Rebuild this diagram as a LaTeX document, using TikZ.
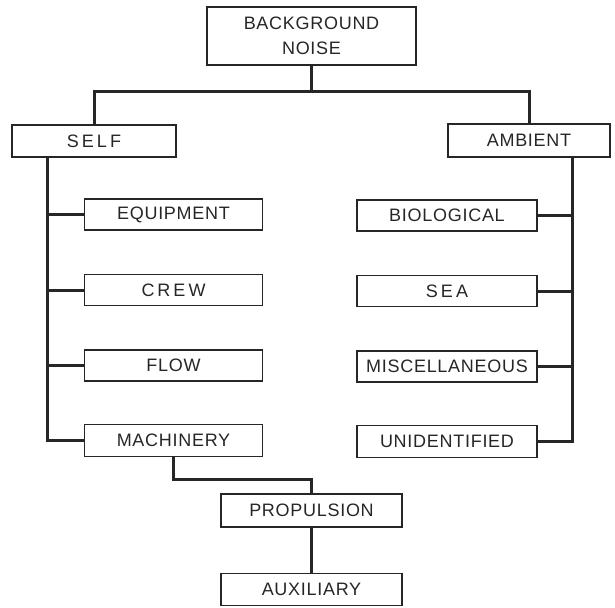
\documentclass[tikz,border=0pt]{standalone}
\usepackage{fontspec}
\setsansfont{Liberation Sans}[LetterSpace=4]
\usetikzlibrary{positioning}

\begin{document}
\begin{tikzpicture}[
  x=1pt, y=-1pt,
  font=\sffamily\fontsize{18}{25}\selectfont,
  every node/.style={text=black!85},
  box/.style={
    draw=black!85,
    line width=1.5pt,
    align=center,
    inner sep=0pt,
    minimum width=178pt,
    minimum height=31pt
  },
  link/.style={draw=black!85, line width=3pt}
]
\useasboundingbox (0,0) rectangle (615,607);

% --- Top ---
\node[box, minimum width=209pt, minimum height=58pt] (bg) at (311.5,36)
{BACKGROUND\\ NOISE};

\node[box, minimum width=164pt, minimum height=32pt] (self) at (94,141) {S\,E\,L\,F};
\node[box, minimum width=162pt, minimum height=33pt] (ambient) at (529,140.5) {AMBIENT};

\draw[link] (bg.south) -- ++(0,26) -| (self.north);
\draw[link] (bg.south) -- ++(0,26) -| (ambient.north);

% --- Self branch ---
\node[box] (equipment) at (173.5,214.5) {EQUIPMENT};
\node[box, below=43pt of equipment] (crew) {C\,R\,E\,W};
\node[box, below=43pt of crew] (flow) {FLOW};
\node[box, below=42pt of flow, minimum height=32pt] (machinery) {MACHINERY};

\coordinate (ltop) at ([xshift=-47pt]self.south);
\draw[link] (ltop) |- (machinery.west);
\foreach \n in {equipment, crew, flow}
  \draw[link] (ltop |- \n.west) -- (\n.west);

% --- Ambient branch ---
\node[box, minimum width=180pt] (biological) at (447,215.5) {BIOLOGICAL};
\node[box, below=43pt of biological, minimum width=180pt] (sea) {S\,E\,A};
\node[box, below=43pt of sea, minimum width=180pt] (misc) {MISCELLANEOUS};
\node[box, below=42pt of misc, minimum width=180pt, minimum height=32pt] (unidentified)
{UNIDENTIFIED};

\coordinate (rtop) at ([xshift=43pt]ambient.south);
\draw[link] (rtop) |- (unidentified.east);
\foreach \n in {biological, sea, misc}
  \draw[link] (rtop |- \n.east) -- (\n.east);

% --- Machinery ---
\node[box, minimum width=181pt, minimum height=33pt] (propulsion) at (311.5,510.5)
{PROPULSION};
\node[box, below=45pt of propulsion, minimum width=181pt, minimum height=32pt] (auxiliary)
{AUXILIARY};

\draw[link] (machinery.south) -- ++(0,22) -| (propulsion.north);
\draw[link] (propulsion.south) -- (auxiliary.north);

\end{tikzpicture}
\end{document}
